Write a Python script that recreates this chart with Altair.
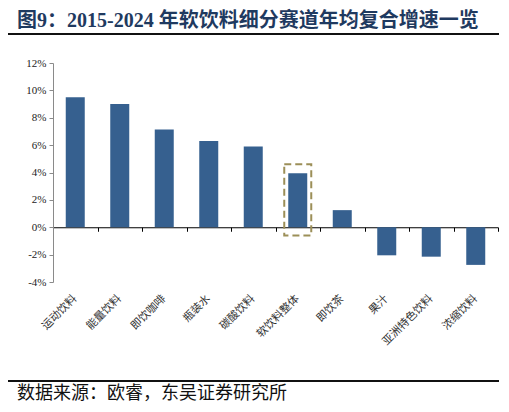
import altair as alt
import pandas as pd

# 2015-2024 CAGR by soft-drink segment (%)
categories = ["运动饮料", "能量饮料", "即饮咖啡", "瓶装水", "碳酸饮料",
              "软饮料整体", "即饮茶", "果汁", "亚洲特色饮料", "浓缩饮料"]
cagr = [9.5, 9.0, 7.15, 6.3, 5.9, 3.95, 1.25, -2.05, -2.15, -2.75]

y_ticks = [-4, -2, 0, 2, 4, 6, 8, 10, 12]

# dashed highlight frame around the overall bar
highlight_cat = ["软饮料整体"]
highlight_top = [4.6]
highlight_bottom = [-0.6]

title_text = "图9：2015-2024 年软饮料细分赛道年均复合增速一览"
source_text = "数据来源：欧睿，东吴证券研究所"

W, H = 445, 219
Y_MIN, Y_MAX = -4, 12
zero_offset = H * (0 - Y_MIN) / (Y_MAX - Y_MIN)

SERIF = "Liberation Serif, Noto Sans CJK SC"
CJK = "Noto Sans CJK SC"

df = pd.DataFrame({"cat": categories, "val": cagr})
box_df = pd.DataFrame({"cat": highlight_cat, "top": highlight_top, "bottom": highlight_bottom})
one = pd.DataFrame({"a": [0]})

x_enc = alt.X("cat:N", sort=categories,
              scale=alt.Scale(paddingInner=0, paddingOuter=0),
              axis=alt.Axis(title=None, labels=False, tickBand="extent",
                            tickSize=4, tickColor="#000", domainColor="#000",
                            offset=-zero_offset))
y_axis = alt.Axis(values=y_ticks, labelExpr="datum.value + '%'", grid=False,
                  title=None, tickSize=4, domainColor="#8a8a8a", tickColor="#8a8a8a",
                  labelFont=SERIF, labelFontSize=11, labelColor="#222", labelPadding=3)
y_scale = alt.Scale(domain=[Y_MIN, Y_MAX], nice=False)

bars = alt.Chart(df).mark_bar(size=19, color="#36608F").encode(
    x=x_enc,
    y=alt.Y("val:Q", scale=y_scale, axis=y_axis),
)

box = alt.Chart(box_df).mark_bar(
    size=27, fill="transparent", stroke="#9C8F58", strokeWidth=2, strokeDash=[7, 4]
).encode(
    x=x_enc,
    y=alt.Y("top:Q", scale=y_scale, axis=y_axis),
    y2="bottom:Q",
)

labels = alt.Chart(df).mark_text(
    angle=315, align="right", baseline="middle", font=CJK, fontSize=11, color="#333"
).encode(
    x=x_enc,
    y=alt.value(H + 15),
    text="cat:N",
)

title = alt.Chart(one).mark_text(
    align="left", baseline="alphabetic", font=SERIF, fontSize=20,
    fontWeight="bold", color="#1F3A60"
).encode(x=alt.value(-36), y=alt.value(-36), text=alt.value(title_text))

source = alt.Chart(one).mark_text(
    align="left", baseline="alphabetic", font=CJK, fontSize=18, color="#111"
).encode(x=alt.value(-36), y=alt.value(336), text=alt.value(source_text))

top_rule = alt.Chart(one).mark_rule(color="#111", strokeWidth=2).encode(
    x=alt.value(-48), x2=alt.value(450), y=alt.value(-29))
bottom_rule = alt.Chart(one).mark_rule(color="#111", strokeWidth=2).encode(
    x=alt.value(-48), x2=alt.value(450), y=alt.value(318))

chart = alt.layer(bars, box, labels, title, source, top_rule, bottom_rule).properties(
    width=W, height=H,
    autosize=alt.AutoSizeParams(type="none"),
    padding={"left": 45, "top": 55, "right": 1, "bottom": 121},
).configure_view(stroke=None)

chart.save("out.html", embed_options={"renderer": "svg", "actions": False})
